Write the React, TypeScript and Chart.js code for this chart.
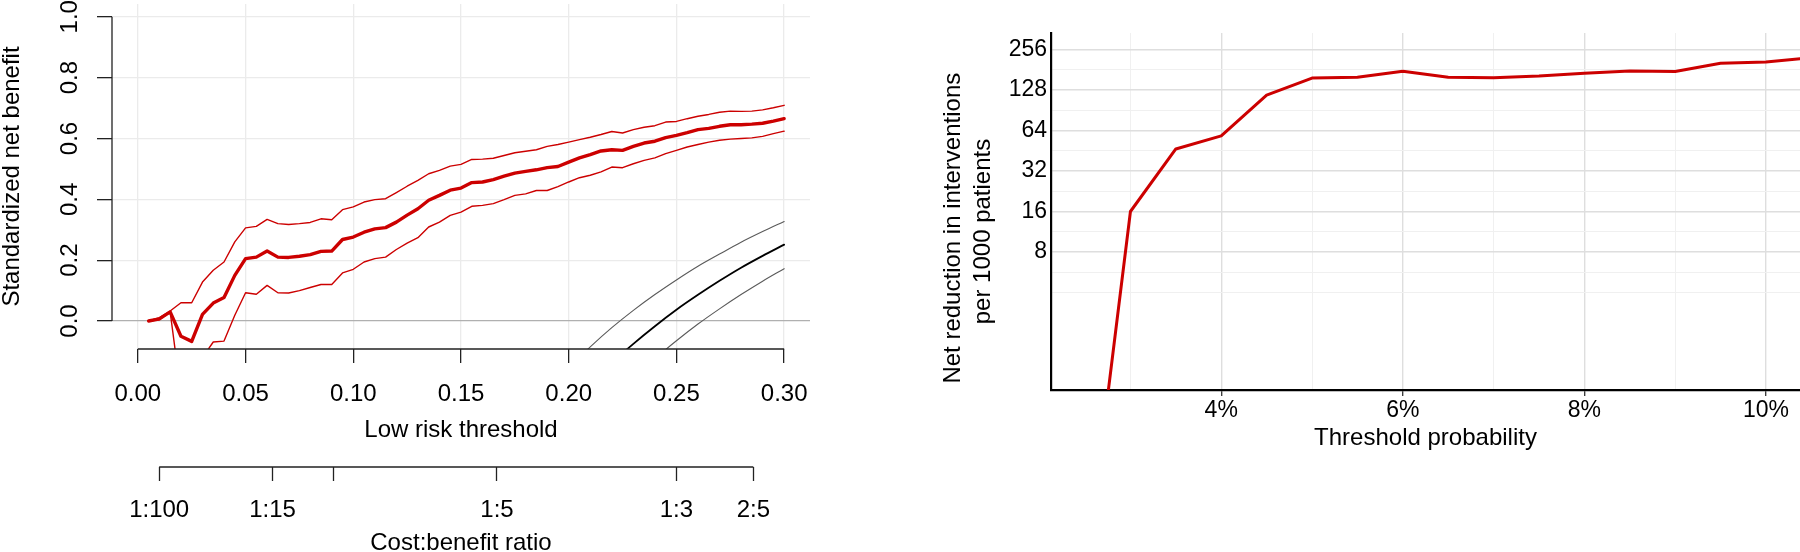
import React, { useEffect, useRef } from 'react';
import { Chart, registerables } from 'chart.js';

Chart.register(...registerables);

const FONT = "'Liberation Sans', Arial, Helvetica, sans-serif";
const RED = '#CC0000';

// ---------- Left panel: standardized net benefit ----------
const THRESHOLDS = [
  0.005, 0.01, 0.015, 0.02, 0.025, 0.03, 0.035, 0.04, 0.045, 0.05,
  0.055, 0.06, 0.065, 0.07, 0.075, 0.08, 0.085, 0.09, 0.095, 0.1,
  0.105, 0.11, 0.115, 0.12, 0.125, 0.13, 0.135, 0.14, 0.145, 0.15,
  0.155, 0.16, 0.165, 0.17, 0.175, 0.18, 0.185, 0.19, 0.195, 0.2,
  0.205, 0.21, 0.215, 0.22, 0.225, 0.23, 0.235, 0.24, 0.245, 0.25,
  0.255, 0.26, 0.265, 0.27, 0.275, 0.28, 0.285, 0.29, 0.295, 0.3,
];
const NB_MEDIAN = [
  0.0, 0.007, 0.03, -0.05, -0.067, 0.022, 0.059, 0.077, 0.15, 0.205,
  0.21, 0.23, 0.21, 0.209, 0.213, 0.218, 0.229, 0.23, 0.268, 0.276,
  0.292, 0.303, 0.307, 0.325, 0.348, 0.369, 0.397, 0.413, 0.43, 0.437,
  0.455, 0.457, 0.465, 0.476, 0.486, 0.492, 0.497, 0.504, 0.508, 0.522,
  0.536, 0.547, 0.559, 0.563, 0.561, 0.574, 0.585, 0.591, 0.603, 0.61,
  0.619, 0.629, 0.633, 0.64, 0.645, 0.645, 0.647, 0.65, 0.657, 0.665,
];
const NB_UPPER = [
  0.0, 0.011, 0.033, 0.06, 0.06, 0.128, 0.167, 0.194, 0.26, 0.306,
  0.311, 0.334, 0.32, 0.317, 0.32, 0.324, 0.336, 0.333, 0.366, 0.375,
  0.391, 0.399, 0.402, 0.422, 0.443, 0.462, 0.484, 0.495, 0.509, 0.515,
  0.531, 0.532, 0.535, 0.544, 0.553, 0.558, 0.563, 0.574, 0.58, 0.588,
  0.596, 0.604, 0.613, 0.623, 0.618, 0.629, 0.637, 0.642, 0.654, 0.656,
  0.665, 0.673, 0.679, 0.686, 0.69, 0.689, 0.69, 0.694, 0.701, 0.709,
];
const NB_LOWER = [
  0.0, 0.004, 0.03, -0.24, -0.2, -0.12, -0.069, -0.066, 0.019, 0.093,
  0.088, 0.117, 0.093, 0.092, 0.1, 0.11, 0.12, 0.12, 0.158, 0.17,
  0.194, 0.205, 0.21, 0.235, 0.256, 0.274, 0.309, 0.325, 0.347, 0.358,
  0.377, 0.38, 0.386, 0.399, 0.413, 0.418, 0.429, 0.429, 0.442, 0.457,
  0.471, 0.479, 0.49, 0.506, 0.504, 0.517, 0.528, 0.536, 0.55, 0.561,
  0.572, 0.58, 0.588, 0.594, 0.598, 0.6, 0.602, 0.607, 0.616, 0.624,
];
// reference ("treat none") curves
const REF_X = [0.2, 0.21, 0.22, 0.23, 0.24, 0.25, 0.26, 0.27, 0.28, 0.29, 0.3];
const REF_UPPER = [-0.153, -0.085, -0.022, 0.035, 0.087, 0.135, 0.18, 0.22, 0.259, 0.294, 0.327];
const REF_MID = [-0.284, -0.208, -0.138, -0.075, -0.017, 0.037, 0.086, 0.132, 0.175, 0.214, 0.251];
const REF_LOWER = [-0.42, -0.335, -0.259, -0.189, -0.124, -0.065, -0.01, 0.04, 0.087, 0.131, 0.172];

const X_TICKS = [0, 0.05, 0.1, 0.15, 0.2, 0.25, 0.3];
const Y_TICKS = [0, 0.2, 0.4, 0.6, 0.8, 1.0];
const COST_TICKS = [0.0099, 0.0625, 0.0909, 0.1667, 0.25, 0.2857];
const COST_LABELS = ['1:100', '1:15', '', '1:5', '1:3', '2:5'];

// ---------- Right panel: net reduction in interventions ----------
const PROB = [0.025, 0.03, 0.035, 0.04, 0.045, 0.05, 0.055, 0.06, 0.065, 0.07, 0.075, 0.08, 0.085, 0.09, 0.095, 0.1, 0.105];
const NET_REDUCTION = [0.03, 16, 46.6, 58.3, 117, 156.3, 158.9, 176, 158.9, 157.5, 162, 169.6, 176.6, 175, 201.6, 206, 222];
const RX_MAJOR = [0.04, 0.06, 0.08, 0.1];
const RX_MINOR = [0.03, 0.05, 0.07, 0.09];
const RY_MAJOR = [8, 16, 32, 64, 128, 256];
const RY_MINOR = [4, 5.66, 11.31, 22.63, 45.25, 90.51, 181.02];

const pts = (xs: number[], ys: number[]) => xs.map((x, i) => ({ x, y: ys[i] }));

const rAxisPlugin = {
  id: 'rAxis',
  afterDraw(chart: any) {
    const { ctx, chartArea, scales } = chart;
    const x = scales.x;
    const y = scales.y;
    const x2 = scales.x2;
    ctx.save();
    ctx.strokeStyle = '#222';
    ctx.lineWidth = 1.3;
    ctx.beginPath();
    ctx.moveTo(x.getPixelForValue(X_TICKS[0]), chartArea.bottom);
    ctx.lineTo(x.getPixelForValue(X_TICKS[X_TICKS.length - 1]), chartArea.bottom);
    ctx.moveTo(chartArea.left, y.getPixelForValue(Y_TICKS[0]));
    ctx.lineTo(chartArea.left, y.getPixelForValue(Y_TICKS[Y_TICKS.length - 1]));
    ctx.moveTo(x2.getPixelForValue(COST_TICKS[0]), x2.top);
    ctx.lineTo(x2.getPixelForValue(COST_TICKS[COST_TICKS.length - 1]), x2.top);
    ctx.stroke();
    ctx.restore();
  },
};

function lineDs(data: any[], color: string, width: number, extra: any = {}) {
  return {
    data,
    borderColor: color,
    borderWidth: width,
    pointRadius: 0,
    fill: false,
    borderJoinStyle: 'round',
    borderCapStyle: 'round',
    xAxisID: 'x',
    yAxisID: 'y',
    ...extra,
  };
}

function leftConfig(): any {
  return {
    type: 'line',
    data: {
      datasets: [
        lineDs(pts(REF_X, REF_UPPER), '#5a5a5a', 1.1, { cubicInterpolationMode: 'monotone' }),
        lineDs(pts(REF_X, REF_LOWER), '#5a5a5a', 1.1, { cubicInterpolationMode: 'monotone' }),
        lineDs(pts(REF_X, REF_MID), '#000', 1.8, { cubicInterpolationMode: 'monotone' }),
        lineDs(pts(THRESHOLDS, NB_UPPER), RED, 1.4),
        lineDs(pts(THRESHOLDS, NB_LOWER), RED, 1.4),
        lineDs(pts(THRESHOLDS, NB_MEDIAN), RED, 3.4),
      ],
    },
    plugins: [rAxisPlugin],
    options: {
      responsive: false,
      animation: false,
      events: [],
      layout: { padding: { top: 4, right: 70, bottom: 0, left: 0 } },
      plugins: { legend: { display: false }, tooltip: { enabled: false } },
      scales: {
        x: {
          type: 'linear',
          position: 'bottom',
          weight: 0,
          min: -0.012,
          max: 0.312,
          bounds: 'data',
          afterBuildTicks: (s: any) => { s.ticks = X_TICKS.map((v) => ({ value: v })); },
          afterFit: (s: any) => { s.height = 118; s.paddingLeft = 0; s.paddingRight = 0; },
          grid: { color: '#ebebeb', lineWidth: 1.3, tickColor: '#222', tickWidth: 1.3, tickLength: 14 },
          border: { display: false },
          ticks: {
            autoSkip: false, minRotation: 0, maxRotation: 0, padding: 17,
            font: { size: 24 }, color: '#000',
            callback: (v: any) => Number(v).toFixed(2),
          },
          title: {
            display: true, text: 'Low risk threshold', color: '#000',
            font: { size: 24, lineHeight: 1 }, padding: { top: 0, bottom: 25 },
          },
        },
        x2: {
          type: 'linear',
          axis: 'x',
          position: 'bottom',
          weight: 1,
          min: -0.012,
          max: 0.312,
          bounds: 'data',
          afterBuildTicks: (s: any) => { s.ticks = COST_TICKS.map((v) => ({ value: v })); },
          afterFit: (s: any) => { s.height = 85; s.paddingLeft = 0; s.paddingRight = 0; },
          grid: { drawOnChartArea: false, tickColor: '#222', tickWidth: 1.3, tickLength: 14 },
          border: { display: false },
          ticks: {
            autoSkip: false, minRotation: 0, maxRotation: 0, padding: 15,
            font: { size: 24 }, color: '#000',
            callback: (_v: any, i: number) => COST_LABELS[i],
          },
          title: {
            display: true, text: 'Cost:benefit ratio', color: '#000',
            font: { size: 24, lineHeight: 1 }, padding: { top: 0, bottom: -3 },
          },
        },
        y: {
          type: 'linear',
          position: 'left',
          min: -0.092,
          max: 1.042,
          bounds: 'data',
          afterBuildTicks: (s: any) => { s.ticks = Y_TICKS.map((v) => ({ value: v })); },
          afterFit: (s: any) => { s.width = 112; s.paddingTop = 0; s.paddingBottom = 0; },
          grid: {
            color: (c: any) => (c.tick && c.tick.value === 0 ? '#b0b0b0' : '#ebebeb'),
            lineWidth: 1.3, tickColor: '#222', tickWidth: 1.3, tickLength: 15,
          },
          border: { display: false },
          ticks: {
            autoSkip: false, minRotation: 90, maxRotation: 90, crossAlign: 'center', padding: 10,
            font: { size: 24 }, color: '#000',
            callback: (v: any) => Number(v).toFixed(1),
          },
          title: {
            display: true, text: 'Standardized net benefit', color: '#000',
            font: { size: 24, lineHeight: 1 }, padding: { top: 0, bottom: 0 },
          },
        },
      },
    },
  };
}

function rightConfig(): any {
  const isMajor = (c: any) => !!(c.tick && c.tick.isMajor);
  return {
    type: 'line',
    data: {
      datasets: [
        {
          data: pts(PROB, NET_REDUCTION),
          borderColor: RED,
          borderWidth: 3,
          pointRadius: 0,
          fill: false,
          borderJoinStyle: 'round',
        },
      ],
    },
    options: {
      responsive: false,
      animation: false,
      events: [],
      layout: { padding: { top: 33, right: 0, bottom: 0, left: 0 } },
      plugins: { legend: { display: false }, tooltip: { enabled: false } },
      scales: {
        x: {
          type: 'linear',
          position: 'bottom',
          min: 0.02125,
          max: 0.10375,
          bounds: 'data',
          afterBuildTicks: (s: any) => {
            s.ticks = [
              ...RX_MINOR.map((v) => ({ value: v, isMajor: false })),
              ...RX_MAJOR.map((v) => ({ value: v, isMajor: true })),
            ].sort((a, b) => a.value - b.value);
          },
          afterFit: (s: any) => { s.height = 162; s.paddingLeft = 0; s.paddingRight = 0; },
          grid: {
            color: (c: any) => (isMajor(c) ? '#dedede' : '#f0f0f0'),
            lineWidth: (c: any) => (isMajor(c) ? 1.4 : 1),
            tickColor: (c: any) => (isMajor(c) ? '#333' : 'rgba(0,0,0,0)'),
            tickWidth: 1.3,
            tickLength: 6,
          },
          border: { display: true, color: '#000', width: 2.2 },
          ticks: {
            autoSkip: false, minRotation: 0, maxRotation: 0, padding: 1,
            font: { size: 23 }, color: '#000',
            callback: (v: any, i: number, t: any[]) => (t[i] && t[i].isMajor ? Math.round(Number(v) * 100) + '%' : ''),
          },
          title: {
            display: true, text: 'Threshold probability', color: '#000',
            font: { size: 24, lineHeight: 1 }, padding: { top: 0, bottom: 102 },
          },
        },
        y: {
          type: 'logarithmic',
          position: 'left',
          min: 0.7579,
          max: 337.79,
          bounds: 'data',
          afterBuildTicks: (s: any) => {
            s.ticks = [
              ...RY_MINOR.map((v) => ({ value: v, isMajor: false })),
              ...RY_MAJOR.map((v) => ({ value: v, isMajor: true })),
            ].sort((a, b) => a.value - b.value);
          },
          afterFit: (s: any) => { s.width = 171; s.paddingTop = 0; s.paddingBottom = 0; },
          grid: {
            color: (c: any) => (isMajor(c) ? '#dedede' : '#f0f0f0'),
            lineWidth: (c: any) => (isMajor(c) ? 1.4 : 1),
            drawTicks: false,
          },
          border: { display: true, color: '#000', width: 2.2 },
          ticks: {
            autoSkip: false, padding: 4,
            font: { size: 23 }, color: '#000',
            major: { enabled: false },
            callback: (v: any, i: number, t: any[]) => (t[i] && t[i].isMajor ? String(v) : ''),
          },
          title: {
            display: true,
            text: ['Net reduction in interventions     ', 'per 1000 patients      '],
            color: '#000',
            font: { size: 24, lineHeight: 1.25 },
            padding: { top: 58, bottom: 0 },
          },
        },
      },
    },
  };
}

export default function App() {
  const leftRef = useRef<HTMLCanvasElement>(null);
  const rightRef = useRef<HTMLCanvasElement>(null);

  useEffect(() => {
    Chart.defaults.font.family = FONT;
    Chart.defaults.color = '#000';
    const left = new Chart(leftRef.current as HTMLCanvasElement, leftConfig());
    const right = new Chart(rightRef.current as HTMLCanvasElement, rightConfig());
    return () => {
      left.destroy();
      right.destroy();
    };
  }, []);

  return (
    <div style={{ position: 'absolute', left: 0, top: 0, width: 1800, height: 552, background: '#fff', overflow: 'hidden' }}>
      <canvas ref={leftRef} width={880} height={552} style={{ position: 'absolute', left: 0, top: 0, width: 880, height: 552 }} />
      <canvas ref={rightRef} width={920} height={552} style={{ position: 'absolute', left: 880, top: 0, width: 920, height: 552 }} />
    </div>
  );
}
